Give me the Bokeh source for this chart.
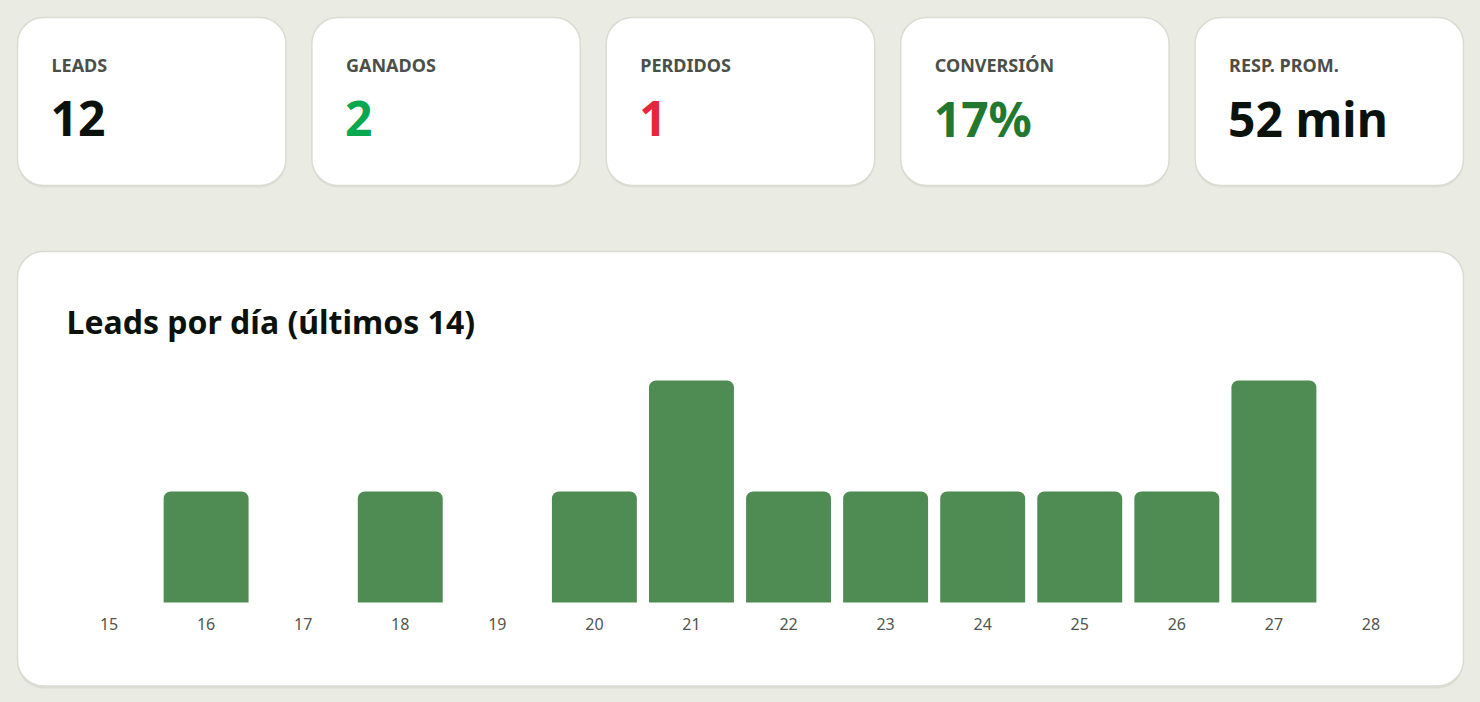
from bokeh.plotting import figure
from bokeh.models import Range1d, Label, ColumnDataSource
from bokeh.core.properties import value
from bokeh.embed import file_html
from bokeh.resources import INLINE
from jinja2 import Template

# ---- data ----
kpi_labels = ["LEADS", "GANADOS", "PERDIDOS", "CONVERSIÓN", "RESP. PROM."]
kpi_values = ["12", "2", "1", "17%", "52 min"]
kpi_colors = ["#0b120b", "#0aa84e", "#e8263b", "#23782f", "#0b120b"]

days = [15, 16, 17, 18, 19, 20, 21, 22, 23, 24, 25, 26, 27, 28]
leads = [0, 1, 0, 1, 0, 1, 2, 1, 1, 1, 1, 1, 2, 0]

chart_title = "Leads por día (últimos 14)"

# ---- styles / layout (page pixels) ----
BG = "#eaece3"
CARD_LINE = "#dadbd1"
BAR = "#4e8c53"
FONT = "Noto Sans"

OFF = 8                                 # page margin
W, H = 1464, 686                        # canvas size
PL, PR, PT, PB = OFF, OFF + W, OFF, OFF + H
CL, CR, CT, CB = 60, 1419, 380, 602     # bar plotting area in page pixels

# main ranges: page pixels (y grows downwards)
p = figure(
    width=W, height=H,
    x_range=Range1d(PL, PR), y_range=Range1d(PB, PT),
    output_backend="svg", toolbar_location=None,
    x_axis_location=None, y_axis_location=None,
    min_border=0, min_border_left=0, min_border_right=0, min_border_top=0, min_border_bottom=0,
    border_fill_color=BG, background_fill_color=BG, outline_line_color=None,
)
p.grid.visible = False

# data ranges for the bar chart, laid over the chart area
x_unit = (CR - CL) / len(days)
y_max = max(leads)
y_unit = (CB - CT) / y_max
p.extra_x_ranges = {"days": Range1d(days[0] - 0.5 - (CL - PL) / x_unit,
                                    days[-1] + 0.5 + (PR - CR) / x_unit)}
p.extra_y_ranges = {"count": Range1d(-(PB - CB) / y_unit, y_max + (CT - PT) / y_unit)}

# ---- KPI cards ----
card_left0, card_right_end, gap = 17, 1463, 26
card_w = (card_right_end - card_left0 - 4 * gap) / 5
card_top, card_bottom = 17, 185
lefts = [card_left0 + i * (card_w + gap) for i in range(len(kpi_labels))]
rights = [l + card_w for l in lefts]
p.quad(left=lefts, right=rights, top=[card_top + 2] * 5, bottom=[card_bottom + 2] * 5,
       fill_color="#000000", fill_alpha=0.05, line_color=None, border_radius=26, level="underlay")
p.quad(left=lefts, right=rights, top=[card_top] * 5, bottom=[card_bottom] * 5,
       fill_color="white", line_color=CARD_LINE, line_width=1.5, border_radius=26, level="underlay")
for left, lab, val, col in zip(lefts, kpi_labels, kpi_values, kpi_colors):
    p.add_layout(Label(x=left + 34, y=64.3, text=lab,
                       text_font=FONT, text_font_size="18px", text_font_style="bold",
                       text_color="#4a5049", text_baseline="alphabetic", text_align="left"))
    p.add_layout(Label(x=left + 33, y=118, text=val,
                       text_font=FONT, text_font_size="48px", text_font_style="bold",
                       text_color=col, text_baseline="alphabetic", text_align="left"))

# ---- chart card ----
p.quad(left=[17], right=[1463], top=[253], bottom=[688],
       fill_color="#000000", fill_alpha=0.06, line_color=None, border_radius=26, level="underlay")
p.quad(left=[17], right=[1463], top=[251], bottom=[685.5],
       fill_color="white", line_color=CARD_LINE, line_width=1.5, border_radius=26, level="underlay")
p.add_layout(Label(x=66, y=321, text=chart_title,
                   text_font=FONT, text_font_size="32px", text_font_style="bold",
                   text_color="#0b120b", text_baseline="alphabetic", text_align="left"))

# ---- bars ----
src = ColumnDataSource(dict(day=days, leads=leads, lab=[str(d) for d in days], zero=[0] * len(days)))
p.vbar(x="day", top="leads", bottom="zero", width=0.875, source=src,
       x_range_name="days", y_range_name="count",
       fill_color=BAR, line_color=None, border_radius=(7, 7, 0, 0))

# ---- day tick labels ----
p.text(x="day", y="zero", text="lab", source=src, x_range_name="days", y_range_name="count",
       y_offset=21, text_align="center", text_baseline="alphabetic",
       text_font=value(FONT), text_font_size="16px", text_color="#50564f")

TEMPLATE = Template("""{% extends base %}
{% block preamble %}<style>
html, body { margin: 0 !important; padding: 0 !important; background: #eaece3 !important; overflow: hidden !important; }
body { padding: 8px !important; box-sizing: border-box; }
</style>{% endblock %}""")

with open("out.html", "w", encoding="utf-8") as f:
    f.write(file_html(p, INLINE, title="Leads", template=TEMPLATE))
